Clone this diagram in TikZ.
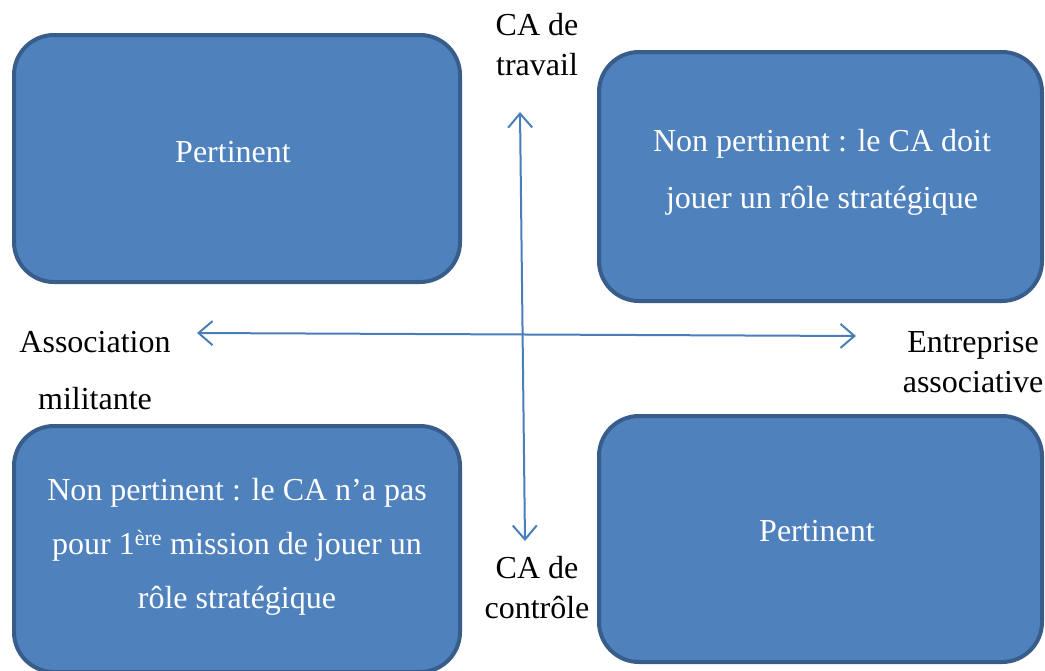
\documentclass[tikz,border=0pt]{standalone}
\usepackage{fontspec}
\setmainfont{Liberation Serif}
\usetikzlibrary{arrows.meta}
\definecolor{boxfill}{HTML}{4F81BD}
\definecolor{boxline}{HTML}{385D8A}
\definecolor{arrowcol}{HTML}{4A7EBB}
\begin{document}
\begin{tikzpicture}[x=1pt,y=-1pt,
  box/.style={draw=boxline, fill=boxfill, line width=4pt, rounded corners=40pt, inner sep=0pt},
  boxtext/.style={text=white, align=center, font=\fontsize{32}{57}\selectfont},
  lab/.style={text=black, align=center, font=\fontsize{32}{40}\selectfont, inner sep=0pt},
  axis/.style={draw=arrowcol, line width=2pt, {Straight Barb[length=14pt,width=24pt,line width=2pt]}-{Straight Barb[length=14pt,width=24pt,line width=2pt]}}
]
\useasboundingbox (0,0) rectangle (1045,670);
% boxes
\node[box, minimum width=446pt, minimum height=247pt] (tl) at (237,158.5) {};
\node[box, minimum width=443pt, minimum height=249pt] (tr) at (820.5,176.5) {};
\node[box, minimum width=446pt, minimum height=246pt] (bl) at (237,549) {};
\node[box, minimum width=443pt, minimum height=246pt] (br) at (820.5,539) {};
% box texts
\node[boxtext] (tlt) at (233,152) {Pertinent};
\node[boxtext] (trt) at (822,172) {Non pertinent : le CA doit\\jouer un rôle stratégique};
\node[boxtext] (blt) at (237,547) {Non pertinent : le CA n’a pas\\[-3pt]pour 1\textsuperscript{\fontsize{22}{22}\selectfont ère} mission de jouer un\\[-3pt]rôle stratégique};
\node[boxtext] (brt) at (817,531) {Pertinent};
% axes
\coordinate (top) at (520,112);
\coordinate (bot) at (525,541);
\coordinate (left) at (197,333);
\coordinate (right) at (856,336);
\draw[axis] (bot) -- (top);
\draw[axis] (left) -- (right);
% labels
\node[lab] (ltop) at (537,45) {CA de\\travail};
\node[lab] (lbot) at (537,588) {CA de\\contrôle};
\node[lab, font=\fontsize{32}{57}\selectfont] (lleft) at (95,371) {Association\\militante};
\node[lab] (lright) at (973,362) {Entreprise\\associative};
\end{tikzpicture}
\end{document}
